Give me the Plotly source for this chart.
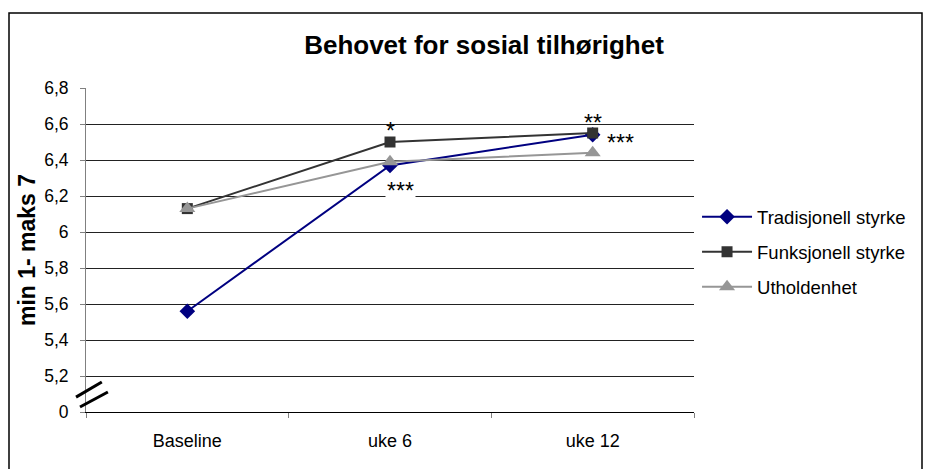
import plotly.graph_objects as go

categories = ["Baseline", "uke 6", "uke 12"]
tradisjonell = [5.56, 6.37, 6.54]
funksjonell = [6.13, 6.50, 6.55]
utholdenhet = [6.13, 6.39, 6.44]

ytick_vals = [5.0, 5.2, 5.4, 5.6, 5.8, 6.0, 6.2, 6.4, 6.6, 6.8]
ytick_text = ["0", "5,2", "5,4", "5,6", "5,8", "6", "6,2", "6,4", "6,6", "6,8"]

FONT = "Liberation Sans, Arial, sans-serif"

fig = go.Figure()
fig.add_trace(go.Scatter(x=categories, y=tradisjonell, name="Tradisjonell styrke", legendgroup="a",
                         mode="lines+markers", line=dict(color="#000080", width=2),
                         marker=dict(symbol="diamond", size=12, color="#000080")))
fig.add_trace(go.Scatter(x=categories, y=funksjonell, name="Funksjonell styrke", legendgroup="b",
                         mode="lines+markers", line=dict(color="#333333", width=2),
                         marker=dict(symbol="square", size=11, color="#333333")))
fig.add_trace(go.Scatter(x=categories, y=utholdenhet, name="Utholdenhet", legendgroup="c",
                         mode="lines+markers", line=dict(color="#969696", width=2),
                         marker=dict(symbol="triangle-up", size=14, color="#969696")))

ann_font = dict(family=FONT, size=23, color="black")
fig.add_annotation(x=1, y=funksjonell[1], text="*", showarrow=False, yshift=11, font=ann_font)
fig.add_annotation(x=1, y=utholdenhet[1], text="***", showarrow=False, yshift=-29, xshift=10,
                   font=ann_font, bgcolor="white")
fig.add_annotation(x=2, y=funksjonell[2], text="**", showarrow=False, yshift=10, font=ann_font)
fig.add_annotation(x=2, y=tradisjonell[2], text="***", showarrow=False, xshift=28, yshift=-8,
                   font=ann_font)

# axis break marks
for (x0, y0, x1, y1) in [(-0.0164, 0.046, 0.026, 0.0926), (-0.0099, 0.0154, 0.036, 0.0617)]:
    fig.add_shape(type="line", xref="paper", yref="paper", x0=x0, y0=y0, x1=x1, y1=y1,
                  line=dict(color="black", width=3))

# outer chart border
fig.add_shape(type="rect", xref="paper", yref="paper",
              x0=(9 - 86) / 608, y0=(412 - 480) / 324, x1=(922 - 86) / 608, y1=(412 - 13) / 324,
              line=dict(color="black", width=1.5), fillcolor="rgba(0,0,0,0)")

fig.update_layout(
    width=925, height=469,
    margin=dict(l=86, r=231, t=88, b=57),
    paper_bgcolor="white", plot_bgcolor="white",
    title=dict(text="<b>Behovet for sosial tilhørighet</b>", x=484 / 925,
               xanchor="center", y=1 - 45 / 469, yanchor="middle",
               font=dict(family=FONT, size=26, color="black")),
    font=dict(family=FONT, size=18, color="black"),
    legend=dict(x=1.005, y=0.66, xanchor="left", yanchor="top",
                font=dict(family=FONT, size=18.5, color="black"),
                tracegroupgap=8, itemwidth=50, bgcolor="rgba(0,0,0,0)"),
    showlegend=True,
)
fig.update_xaxes(type="category", range=[-0.5, 2.5], showgrid=False,
                 showline=True, linecolor="black", linewidth=1,
                 ticks="outside", tickson="boundaries", ticklen=5, tickcolor="#808080",
                 ticklabelstandoff=12,
                 tickfont=dict(family=FONT, size=18, color="black"))
fig.update_yaxes(range=[5.0, 6.8], tickvals=ytick_vals, ticktext=ytick_text,
                 showgrid=True, gridcolor="#222222", gridwidth=1,
                 showline=True, linecolor="#808080", linewidth=1,
                 ticks="outside", ticklen=5, tickcolor="#808080",
                 ticklabelstandoff=8,
                 tickfont=dict(family=FONT, size=17.5, color="black"),
                 title=dict(text="<b>min 1- maks 7</b>", font=dict(family=FONT, size=23, color="black"),
                            standoff=2),
                 zeroline=False)

fig.write_html("out.html", config={"displayModeBar": False},
               post_script="document.body.style.margin='0';")
